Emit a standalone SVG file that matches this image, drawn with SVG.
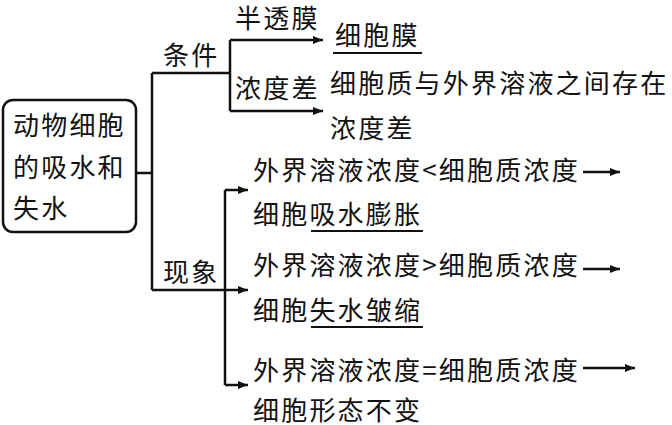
<svg xmlns="http://www.w3.org/2000/svg" width="672" height="425" viewBox="0 0 672 425">
<defs>
<marker id="ah" viewBox="0 0 10 8" refX="10" refY="4" markerWidth="10" markerHeight="8" markerUnits="userSpaceOnUse" orient="auto">
<path d="M0,0 L10,4 L0,8 Z" fill="#111"/>
</marker>
</defs>
<style>
text{font-family:"Noto Sans CJK SC","Noto Sans",sans-serif;font-size:26px;fill:#111;letter-spacing:2.2px}
.ln{fill:none;stroke:#111;stroke-width:2.5}
.ar{fill:none;stroke:#111;stroke-width:2.5;marker-end:url(#ah)}
.ul{stroke:#111;stroke-width:2.2}
</style>
<rect width="672" height="425" fill="#fff"/>
<g id="root">
<rect x="3" y="100" width="133" height="132" rx="10" class="ln"/>
<text x="13" y="135">动物细胞</text>
<text x="13" y="177">的吸水和</text>
<text x="13" y="218">失水</text>
</g>
<g id="connectors">
<path d="M136,173 H152" class="ln"/>
<path d="M152,73 V290" class="ln"/>
<path d="M152,73 H230" class="ln"/>
<path d="M230,40 V111" class="ln"/>
<path d="M230,40 H323" class="ar"/>
<path d="M230,111 H323" class="ar"/>
<path d="M152,290 H248" class="ar"/>
<path d="M225,190 V385" class="ln"/>
<path d="M225,190 H248" class="ar"/>
<path d="M225,385 H248" class="ar"/>
<path d="M583,172 H620" class="ar"/>
<path d="M583,269 H620" class="ar"/>
<path d="M583,368 H635" class="ar"/>
</g>
<g id="cond"><text x="163" y="65">条件</text></g>
<g id="phen"><text x="163" y="282">现象</text></g>
<g id="semi"><text x="235" y="28">半透膜</text></g>
<g id="diff"><text x="235" y="98">浓度差</text></g>
<g id="membrane">
<text x="335" y="45">细胞膜</text>
<path d="M333,53 H422" class="ul"/>
</g>
<g id="diffdesc">
<text x="330" y="93">细胞质与外界溶液之间存在</text>
<text x="330" y="138">浓度差</text>
</g>
<g id="p1">
<text x="253" y="180">外界溶液浓度&lt;细胞质浓度</text>
<text x="253" y="224">细胞吸水膨胀</text>
<path d="M311,231 H423" class="ul"/>
</g>
<g id="p2">
<text x="253" y="275">外界溶液浓度&gt;细胞质浓度</text>
<text x="253" y="320">细胞失水皱缩</text>
<path d="M311,327 H423" class="ul"/>
</g>
<g id="p3">
<text x="253" y="380">外界溶液浓度=细胞质浓度</text>
<text x="253" y="420">细胞形态不变</text>
</g>
</svg>
